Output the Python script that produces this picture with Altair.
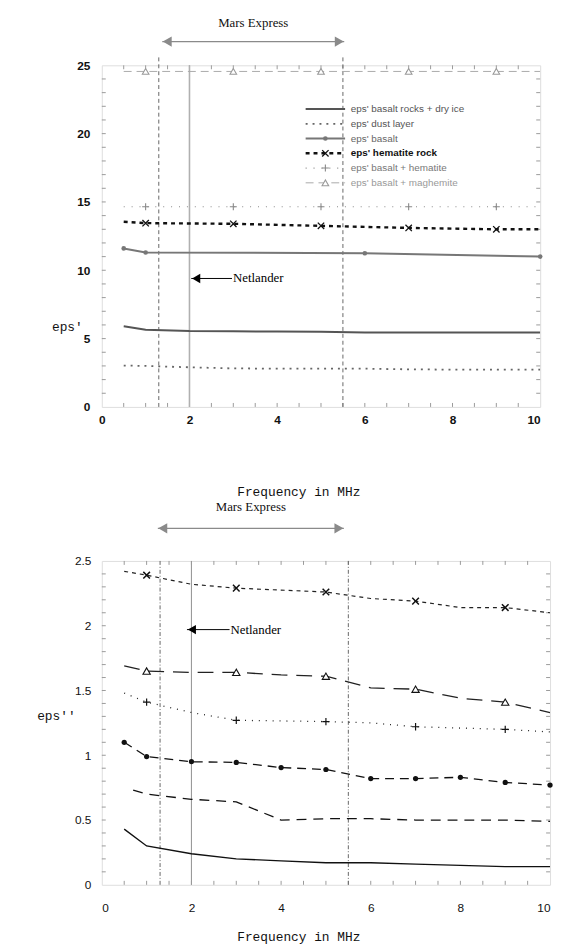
import altair as alt
import pandas as pd

# ---------------- data: upper panel (eps') ----------------
top_names = ["eps' basalt rocks + dry ice", "eps' dust layer", "eps' basalt",
             "eps' hematite rock", "eps' basalt + hematite", "eps' basalt + maghemite"]

top_f_dryice = [0.5, 1, 2, 3, 4, 5, 6, 7, 8, 9, 10]
top_v_dryice = [5.9, 5.65, 5.55, 5.53, 5.52, 5.5, 5.45, 5.45, 5.44, 5.44, 5.44]
top_f_dust = [0.5, 1, 2, 3, 4, 5, 6, 7, 8, 9, 10]
top_v_dust = [3.03, 3.0, 2.9, 2.82, 2.8, 2.8, 2.8, 2.75, 2.73, 2.73, 2.73]
top_f_basalt = [0.5, 1, 6, 10]
top_v_basalt = [11.6, 11.3, 11.25, 11.0]
top_f_hem = [0.5, 1, 3, 5, 7, 9, 10]
top_v_hem = [13.55, 13.45, 13.4, 13.25, 13.1, 13.0, 13.0]
top_f_bh = [0.5, 1, 3, 5, 7, 9, 10]
top_v_bh = [14.65, 14.65, 14.65, 14.65, 14.65, 14.65, 14.65]
top_f_mag = [0.5, 1, 3, 5, 7, 9, 10]
top_v_mag = [24.55, 24.55, 24.55, 24.55, 24.55, 24.55, 24.55]

top_marks_basalt = [0.5, 1, 6, 10]
top_marks_odd = [1, 3, 5, 7, 9]

# ---------------- data: lower panel (eps'') ----------------
bot_f_dryice = [0.5, 1, 2, 3, 4, 5, 6, 7, 8, 9, 10]
bot_v_dryice = [0.43, 0.3, 0.24, 0.2, 0.185, 0.17, 0.17, 0.16, 0.15, 0.14, 0.14]
bot_f_dust = [0.7, 1, 2, 3, 4, 5, 6, 7, 8, 9, 10]
bot_v_dust = [0.73, 0.7, 0.66, 0.64, 0.5, 0.51, 0.51, 0.5, 0.5, 0.5, 0.49]
bot_f_basalt = [0.5, 1, 2, 3, 4, 5, 6, 7, 8, 9, 10]
bot_v_basalt = [1.1, 0.99, 0.95, 0.945, 0.905, 0.89, 0.82, 0.82, 0.83, 0.79, 0.77]
bot_f_bh = [0.5, 1, 2, 3, 5, 6, 7, 8, 9, 10]
bot_v_bh = [1.48, 1.41, 1.33, 1.27, 1.26, 1.25, 1.22, 1.21, 1.2, 1.18]
bot_f_mag = [0.5, 1, 2, 3, 4, 5, 6, 7, 8, 9, 10]
bot_v_mag = [1.69, 1.65, 1.64, 1.64, 1.62, 1.61, 1.52, 1.51, 1.44, 1.41, 1.33]
bot_f_hem = [0.5, 1, 2, 3, 5, 6, 7, 8, 9, 10]
bot_v_hem = [2.42, 2.39, 2.32, 2.29, 2.26, 2.21, 2.19, 2.14, 2.14, 2.1]

bot_marks_basalt = [0.5, 1, 2, 3, 4, 5, 6, 7, 8, 9, 10]
bot_marks_odd = [1, 3, 5, 7, 9]

mars_express = [1.3, 5.5]
netlander = 2.0

# tick positions (inward ticks on the frame)
x_minor = [0.5, 1, 1.5, 2, 2.5, 3, 3.5, 4, 4.5, 5, 5.5, 6, 6.5, 7, 7.5, 8, 8.5, 9, 9.5]
top_y_minor = [1, 2, 3, 4, 5, 6, 7, 8, 9, 10, 11, 12, 13, 14, 15, 16, 17, 18, 19, 20,
               21, 22, 23, 24]
bot_y_minor = [0.1, 0.2, 0.3, 0.4, 0.5, 0.6, 0.7, 0.8, 0.9, 1.0, 1.1, 1.2, 1.3, 1.4, 1.5,
               1.6, 1.7, 1.8, 1.9, 2.0, 2.1, 2.2, 2.3, 2.4]

# ---------------- styling ----------------
PLUS = "M-1,0L1,0M0,-1L0,1"
CROSS = "M-1,-1L1,1M-1,1L1,-1"

TOP_W, TOP_H = 444, 346
BOT_W, BOT_H = 454, 328

serif = "Liberation Serif"
mono = "Liberation Mono"
sans = "Liberation Sans"


def xenc(scale, axis):
    return alt.X("freq:Q", scale=scale, axis=axis)


def yenc(scale, axis):
    return alt.Y("val:Q", scale=scale, axis=axis)


def series(freqs, vals, marks, st, xs, ys, xa, ya):
    df = pd.DataFrame({"freq": freqs, "val": vals})
    kw = dict(color=st["color"], strokeWidth=st["sw"], clip=True)
    if st.get("dash"):
        kw["strokeDash"] = st["dash"]
    line = alt.Chart(df).mark_line(**kw).encode(x=xenc(xs, xa), y=yenc(ys, ya))
    layers = [line]
    if st.get("shape") and marks:
        dm = df[df["freq"].isin(marks)]
        shape = st["shape"]
        if shape == "dot":
            pt = alt.Chart(dm).mark_point(shape="circle", filled=True, color=st["mcolor"],
                                          size=st["msize"], opacity=1)
        elif shape == "tri":
            pt = alt.Chart(dm).mark_point(shape="triangle-up", filled=True, fill="white",
                                          stroke=st["mcolor"], strokeWidth=1.1,
                                          size=st["msize"], opacity=1)
        else:
            pt = alt.Chart(dm).mark_point(shape=shape, filled=False, stroke=st["mcolor"],
                                          strokeWidth=st.get("mw", 1.3), size=st["msize"], opacity=1)
        layers.append(pt.encode(x=xenc(xs, xa), y=yenc(ys, ya)))
    return layers


def frame_ticks(xs, ys, xa, ya, W, H, ymin):
    out = []
    tdf = pd.DataFrame({"freq": x_minor})
    out.append(alt.Chart(tdf).mark_rule(color="#999", strokeWidth=1).encode(
        x=xenc(xs, xa), y=alt.value(H), y2=alt.value(H - 4)))
    out.append(alt.Chart(tdf).mark_rule(color="#999", strokeWidth=1).encode(
        x=xenc(xs, xa), y=alt.value(0), y2=alt.value(4)))
    ydf = pd.DataFrame({"val": ymin})
    out.append(alt.Chart(ydf).mark_rule(color="#999", strokeWidth=1).encode(
        y=yenc(ys, ya), x=alt.value(0), x2=alt.value(4)))
    out.append(alt.Chart(ydf).mark_rule(color="#999", strokeWidth=1).encode(
        y=yenc(ys, ya), x=alt.value(W), x2=alt.value(W - 4)))
    return out


def guides(xs, ys, xa, ya, H, me_text_y, me_arrow_y, me_x, net_y, net_tip, net_tail,
           me_dash, me_color, net_color, net_w, rule_top):
    layers = []
    vdf = pd.DataFrame({"freq": mars_express})
    layers.append(alt.Chart(vdf).mark_rule(color=me_color, strokeWidth=1, strokeDash=me_dash).encode(
        x=xenc(xs, xa), y=alt.value(rule_top), y2=alt.value(H)))
    ndf = pd.DataFrame({"freq": [netlander]})
    layers.append(alt.Chart(ndf).mark_rule(color=net_color, strokeWidth=net_w).encode(
        x=xenc(xs, xa), y=alt.value(0), y2=alt.value(H)))
    adf = pd.DataFrame({"freq": [me_x[0]], "f2": [me_x[1]]})
    layers.append(alt.Chart(adf).mark_rule(color="#8a8a8a", strokeWidth=1.2).encode(
        x=xenc(xs, xa), x2="f2:Q", y=alt.value(me_arrow_y)))
    ldf = pd.DataFrame({"freq": [me_x[0]]})
    rdf = pd.DataFrame({"freq": [me_x[1]]})
    layers.append(alt.Chart(ldf).mark_point(shape="triangle-left", filled=True, color="#8a8a8a",
                                            size=110, opacity=1, xOffset=5).encode(
        x=xenc(xs, xa), y=alt.value(me_arrow_y)))
    layers.append(alt.Chart(rdf).mark_point(shape="triangle-right", filled=True, color="#8a8a8a",
                                            size=110, opacity=1, xOffset=-5).encode(
        x=xenc(xs, xa), y=alt.value(me_arrow_y)))
    tdf = pd.DataFrame({"freq": [(me_x[0] + me_x[1]) / 2], "label": ["Mars Express"]})
    layers.append(alt.Chart(tdf).mark_text(font=serif, fontSize=13, color="#111",
                                           baseline="middle", align="center").encode(
        x=xenc(xs, xa), y=alt.value(me_text_y), text="label:N"))
    nldf = pd.DataFrame({"freq": [net_tip], "f2": [net_tail], "val": [net_y]})
    layers.append(alt.Chart(nldf).mark_rule(color="black", strokeWidth=1).encode(
        x=xenc(xs, xa), x2="f2:Q", y=yenc(ys, ya)))
    layers.append(alt.Chart(nldf).mark_point(shape="triangle-left", filled=True, color="black",
                                             size=90, opacity=1, xOffset=5).encode(
        x=xenc(xs, xa), y=yenc(ys, ya)))
    ntdf = pd.DataFrame({"freq": [net_tail], "val": [net_y], "label": ["Netlander"]})
    layers.append(alt.Chart(ntdf).mark_text(font=serif, fontSize=13, color="black",
                                            align="left", baseline="middle", dx=1).encode(
        x=xenc(xs, xa), y=yenc(ys, ya), text="label:N"))
    return layers


# ---------------- upper panel ----------------
xs_top = alt.Scale(domain=[0, 10], nice=False, zero=False)
ys_top = alt.Scale(domain=[0, 25], nice=False, zero=False)
xa_top = alt.Axis(values=[0, 2, 4, 6, 8, 10], title="Frequency in MHz", grid=False, ticks=False,
                  domain=False, labelFont=sans, labelFontSize=12, labelFontWeight="bold",
                  labelColor="#111", labelPadding=8, titleFont=mono, titleFontSize=13,
                  titleFontWeight="normal", titleColor="#111", titleX=199, titleY=86,
                  titleAlign="center", titleBaseline="middle",
                  labelAlign={"condition": {"test": "datum.value === 10", "value": "right"},
                              "value": "center"})
ya_top = alt.Axis(values=[0, 5, 10, 15, 20, 25], title="eps'", grid=False, ticks=False,
                  domain=False, labelFont=sans, labelFontSize=12, labelFontWeight="bold",
                  labelColor="#111", labelPadding=12, titleFont=mono, titleFontSize=13,
                  titleFontWeight="normal", titleColor="#111", titleAngle=0, titleX=-51,
                  titleY=265, titleAlign="left", titleBaseline="middle")

top_styles = [
    dict(color="#555", sw=2.0),
    dict(color="#666", sw=1.8, dash=[2, 5]),
    dict(color="#777", sw=2.0, shape="dot", mcolor="#777", msize=22),
    dict(color="#111", sw=2.4, dash=[4, 4], shape=CROSS, mcolor="#111", msize=42, mw=1.3),
    dict(color="#888", sw=1.2, dash=[1, 7], shape=PLUS, mcolor="#888", msize=50, mw=1.1),
    dict(color="#aaa", sw=1.0, dash=[8, 5], shape="tri", mcolor="#999", msize=45),
]
top_data = [
    (top_f_dryice, top_v_dryice, []),
    (top_f_dust, top_v_dust, []),
    (top_f_basalt, top_v_basalt, top_marks_basalt),
    (top_f_hem, top_v_hem, top_marks_odd),
    (top_f_bh, top_v_bh, top_marks_odd),
    (top_f_mag, top_v_mag, top_marks_odd),
]

top_layers = frame_ticks(xs_top, ys_top, xa_top, ya_top, TOP_W, TOP_H, top_y_minor)
top_layers += guides(xs_top, ys_top, xa_top, ya_top, TOP_H, -43, -24, [1.38, 5.53], 9.4,
                     2.04, 2.97, [4, 3], "#666", "#b0b0b0", 1.6, -8)
for (f, v, m), st in zip(top_data, top_styles):
    top_layers += series(f, v, m, st, xs_top, ys_top, xa_top, ya_top)

# legend (drawn inside the upper plot)
leg_x0, leg_x1, leg_xm, leg_xt = 4.65, 5.55, 5.1, 5.68
leg_y0, leg_dy = 21.8, 1.08
leg_text_colors = ["#555", "#555", "#666", "#111", "#777", "#999"]
for i, (name, st) in enumerate(zip(top_names, top_styles)):
    yv = leg_y0 - i * leg_dy
    f = [leg_x0, leg_xm, leg_x1]
    v = [yv, yv, yv]
    marks = [leg_xm] if st.get("shape") else []
    top_layers += series(f, v, marks, st, xs_top, ys_top, xa_top, ya_top)
    tdf = pd.DataFrame({"freq": [leg_xt], "val": [yv], "label": [name]})
    top_layers.append(alt.Chart(tdf).mark_text(
        font=sans, fontSize=10, color=leg_text_colors[i], align="left", baseline="middle",
        fontWeight="bold" if i == 3 else "normal").encode(
        x=xenc(xs_top, xa_top), y=yenc(ys_top, ya_top), text="label:N"))

top_chart = alt.layer(*top_layers).properties(width=TOP_W, height=TOP_H)

# ---------------- lower panel ----------------
xs_bot = alt.Scale(domain=[0, 10], nice=False, zero=False)
ys_bot = alt.Scale(domain=[0, 2.5], nice=False, zero=False)
xa_bot = alt.Axis(values=[0, 2, 4, 6, 8, 10], title="Frequency in MHz", grid=False, ticks=False,
                  domain=False, labelFont=sans, labelFontSize=12, labelColor="#111",
                  labelPadding=18, titleFont=mono, titleFontSize=13, titleFontWeight="normal",
                  titleColor="#111", titleX=199, titleY=52, titleAlign="center",
                  titleBaseline="middle")
ya_bot = alt.Axis(values=[0, 0.5, 1, 1.5, 2, 2.5], format="~g", title="eps''", grid=False,
                  ticks=False, domain=False, labelFont=sans, labelFontSize=12, labelColor="#111",
                  labelPadding=11, titleFont=mono, titleFontSize=13, titleFontWeight="normal",
                  titleColor="#111", titleAngle=0, titleX=-66, titleY=157, titleAlign="left",
                  titleBaseline="middle")

bot_styles = [
    dict(color="#111", sw=1.4),
    dict(color="#111", sw=1.3, dash=[10, 7]),
    dict(color="#111", sw=1.3, dash=[9, 6], shape="dot", mcolor="#111", msize=28),
    dict(color="#222", sw=1.3, dash=[1, 6], shape=PLUS, mcolor="#111", msize=55, mw=1.2),
    dict(color="#222", sw=1.3, dash=[16, 9], shape="tri", mcolor="#111", msize=55),
    dict(color="#222", sw=1.2, dash=[4, 4], shape=CROSS, mcolor="#111", msize=45, mw=1.5),
]
bot_data = [
    (bot_f_dryice, bot_v_dryice, []),
    (bot_f_dust, bot_v_dust, []),
    (bot_f_basalt, bot_v_basalt, bot_marks_basalt),
    (bot_f_bh, bot_v_bh, bot_marks_odd),
    (bot_f_mag, bot_v_mag, bot_marks_odd),
    (bot_f_hem, bot_v_hem, bot_marks_odd),
]

bot_layers = frame_ticks(xs_bot, ys_bot, xa_bot, ya_bot, BOT_W, BOT_H, bot_y_minor)
bot_layers += guides(xs_bot, ys_bot, xa_bot, ya_bot, BOT_H, -55, -33, [1.25, 5.4], 1.97,
                     1.9, 2.85, [4, 2, 1, 2], "#666", "#999", 1.1, 0)
for (f, v, m), st in zip(bot_data, bot_styles):
    bot_layers += series(f, v, m, st, xs_bot, ys_bot, xa_bot, ya_bot)

bot_chart = alt.layer(*bot_layers).properties(width=BOT_W, height=BOT_H)

chart = alt.vconcat(top_chart, bot_chart, spacing=0).properties(
    padding={"left": 28, "top": 2, "right": 0, "bottom": 0}
).configure_view(stroke="#8c8c8c", strokeWidth=1.5).configure(background="white")

chart.save("out.html", embed_options={"renderer": "svg", "actions": False})
